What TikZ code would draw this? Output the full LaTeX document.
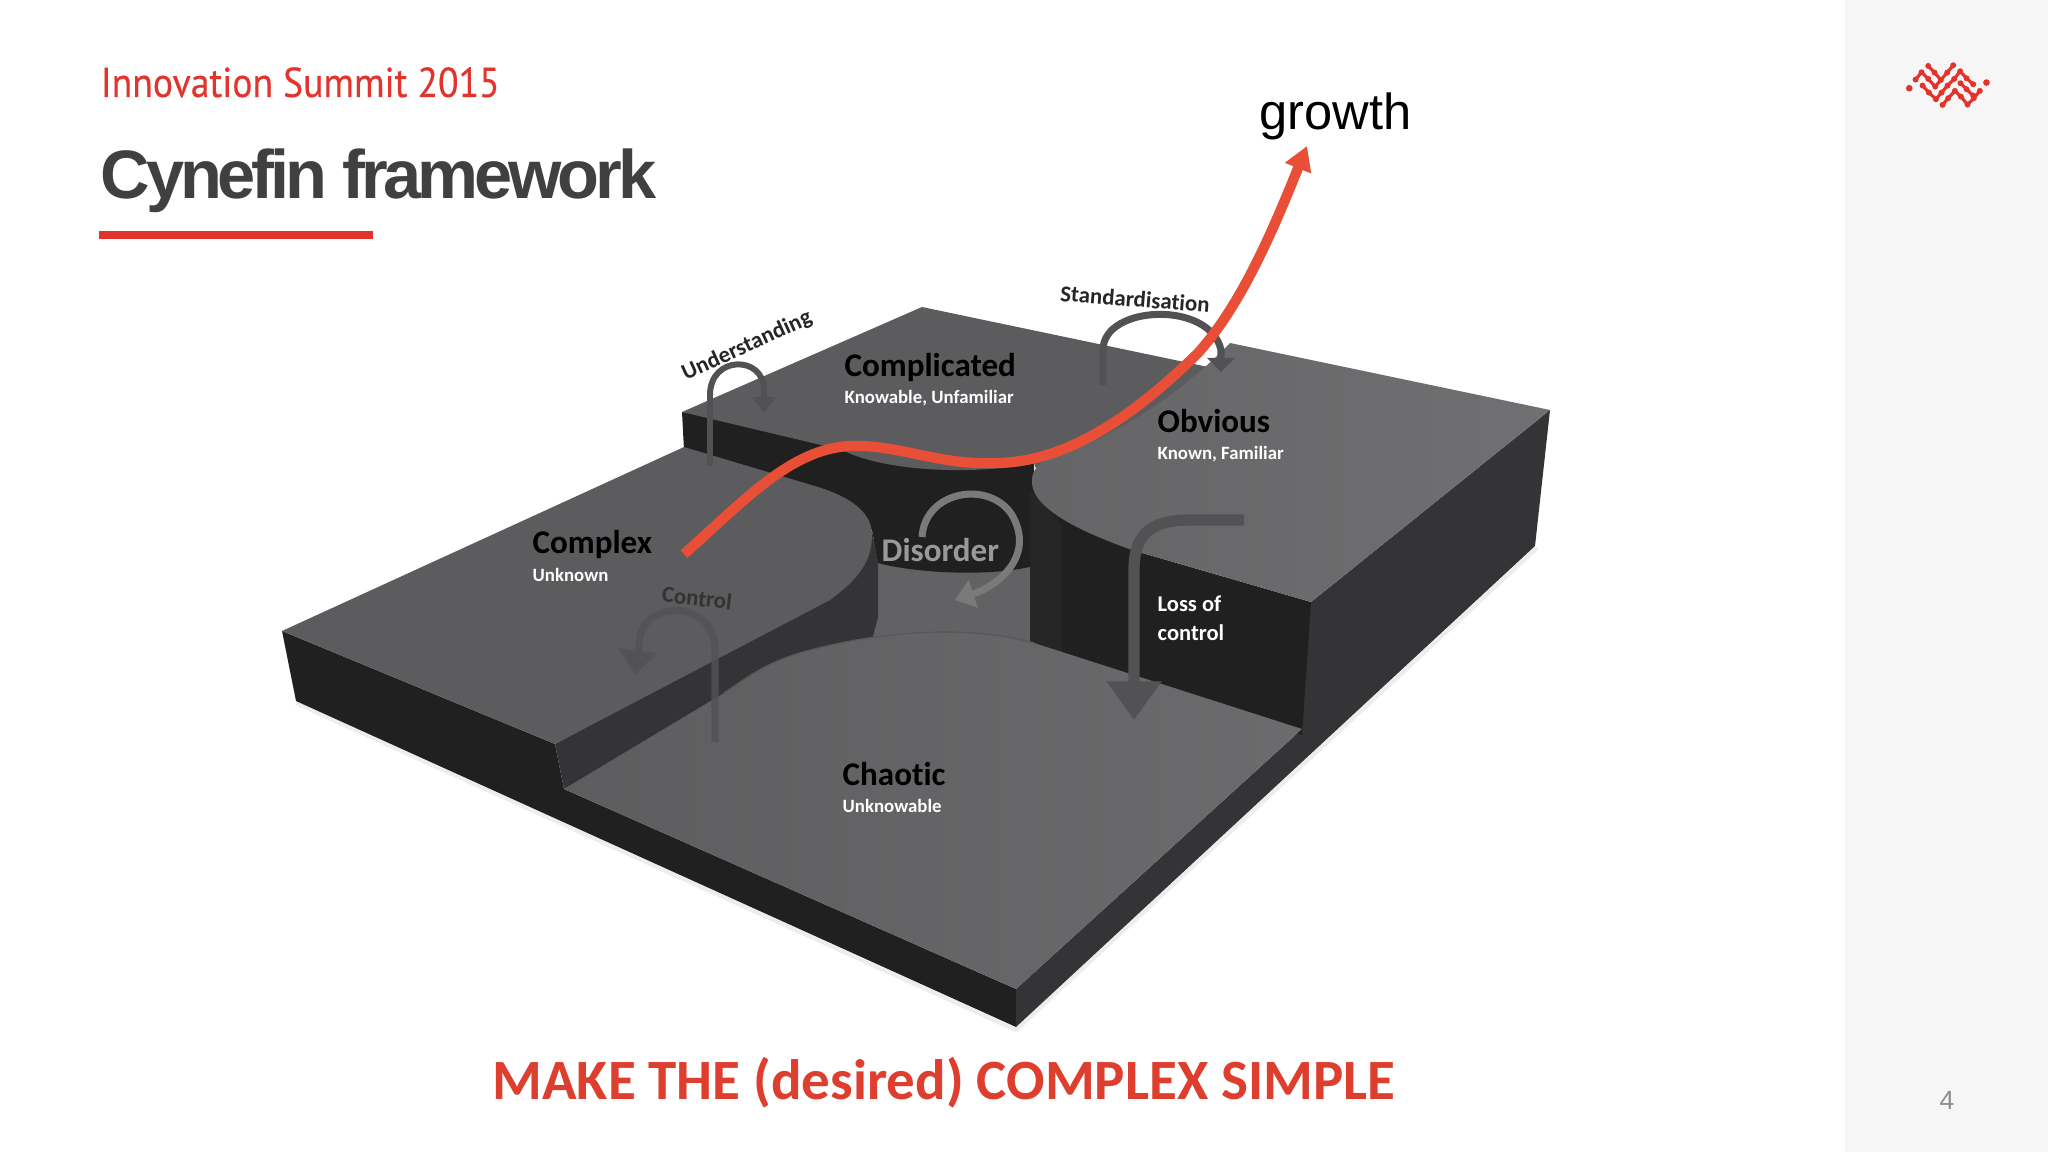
\documentclass[tikz,border=0pt]{standalone}
\usepackage{fontspec}
\setmainfont[Ligatures=NoCommon]{Carlito}
\newfontfamily\arialfont{Liberation Sans}
\newfontfamily\titlefont[LetterSpace=-6]{Liberation Sans}
\newfontfamily\headfont[FakeStretch=0.9,FakeBold=0.25]{PT Sans}
\usetikzlibrary{arrows.meta}
\definecolor{wallblack}{RGB}{33,32,33}
\definecolor{wallside}{RGB}{52,51,53}
\definecolor{topdark}{RGB}{92,91,93}
\definecolor{toplight}{RGB}{112,111,113}
\definecolor{floorgrey}{RGB}{98,97,99}
\definecolor{flowgrey}{RGB}{82,82,84}
\definecolor{logored}{RGB}{226,52,44}
\definecolor{growthred}{RGB}{233,79,55}
\definecolor{slogan}{RGB}{222,62,46}

\begin{document}
\begin{tikzpicture}[
  x=0.01cm,y=-0.01cm,
  wall/.style={fill=wallblack},
  sidewall/.style={fill=wallside},
  surface/.style={fill=#1},
  region/.style={anchor=base west,font=\fontsize{9.4}{11}\selectfont\bfseries,text=black,inner sep=0pt},
  note/.style={anchor=base west,font=\fontsize{5.35}{6}\selectfont\bfseries,text=white,inner sep=0pt},
  move/.style={font=\fontsize{6.5}{8}\selectfont\bfseries,text=#1,inner sep=0pt},
  flow/.style n args={3}{draw=flowgrey,line width=#1,-{Triangle[length=#2,width=#3]}}
  ]
  \useasboundingbox (0,0) rectangle (2048,1152);
  \fill[white] (0,0) rectangle (2048,1152);
  \fill[black!3.5] (1845,0) rectangle (2048,1152);

  \node[anchor=base west,inner sep=0pt,text=logored,font=\headfont\fontsize{11.9}{14}\selectfont] (NHead) at (100,97) {Innovation Summit 2015};
  \node[anchor=base west,inner sep=0pt,text=black!75,font=\titlefont\bfseries\fontsize{19.5}{22}\selectfont] (NTitle) at (100,199) {Cynefin framework};
  \fill[logored] (99,231) rectangle (373,239);

  % base slab
  \draw[black!7,line width=1.2pt] (296,703) -- (1016,1030) -- (1537,548);
  \path[wall] (282,631) -- (296,701) -- (1016,1027) -- (1016,989) -- (564,789) -- (555,744) -- cycle;
  \path[sidewall] (1016,989) -- (1016,1027) -- (1535,546) -- (1550,410) -- (1311,602) -- (1280,650) -- (1302,729) -- cycle;

  % floor in the middle
  \path[surface=floorgrey] (850,540) rectangle (1040,660);

  % complicated block
  \path[wall] (682,412) -- (684,450) -- (818,490) -- (872,530) -- (878,563)
    .. controls (910,572) and (985,578) .. (1034,566) -- (1034,460) -- (842,440) -- cycle;
  \path[surface=topdark] (922,307) -- (1232,372) -- (1100,480) -- (1040,480) -- (1034,463)
    .. controls (985,474) and (890,474) .. (842,450) -- (682,412) -- cycle;

  % obvious block
  \path[wall] (1032,470) -- (1030,650) -- (1302,735) -- (1311,602) -- (1132,550) -- cycle;
  \path[wall,fill=black!85] (1030,490) -- (1030,645) -- (1062,657) -- (1062,525) -- cycle;
  \path[left color=toplight!90!black,right color=toplight] (1230,343) -- (1550,410) -- (1311,602) -- (1132,550)
    .. controls (1070,528) and (1030,505) .. (1032,480)
    .. controls (1032,470) and (1040,462) .. (1050,458)
    .. controls (1110,440) and (1180,395) .. (1230,343) -- cycle;

  % complex block
  \path[sidewall] (555,744) -- (564,789) -- (724,700)
    .. controls (760,672) and (830,650) .. (870,648) -- (878,617) -- (878,563) -- (872,530) -- (840,590) -- cycle;
  \path[surface=topdark] (282,631) -- (684,447) -- (818,487)
    .. controls (850,497) and (872,512) .. (872,535)
    .. controls (872,560) and (860,578) .. (830,600) -- (555,744) -- cycle;

  % chaotic block
  \path[left color=floorgrey!95!black,right color=floorgrey!94!white] (564,789) -- (1016,989) -- (1302,729) -- (1034,643)
    .. controls (970,625) and (880,630) .. (800,653)
    .. controls (760,665) and (740,683) .. (724,693) -- cycle;
  \draw[black!65,line width=0.4pt] (724,693) .. controls (740,683) and (760,665) .. (800,653)
    .. controls (880,630) and (970,625) .. (1034,643);

  % moves between the domains
  \draw[flow={1.7pt}{4.5pt}{6.5pt}] (710,466) -- (710,395) .. controls (710,355) and (764,355) .. (764,390) -- (764,413);
  \draw[flow={2pt}{4pt}{7.7pt}] (1103,385) -- (1103,350) .. controls (1103,305) and (1210,300) .. (1221,350) -- (1221,372);
  \draw[flow={2pt}{7pt}{10.8pt},draw opacity=0.8,fill opacity=0.8] (715,742) -- (715,650) .. controls (715,598) and (639,598) .. (639,645) -- (635,675);
  \draw[flow={3.2pt}{11pt}{15pt}] (1244,520) -- (1190,520) .. controls (1150,520) and (1134,535) .. (1134,570) -- (1134,720);
  \draw[draw=black!52,line width=2pt,-{Triangle[length=5.5pt,width=8pt]}] (922,537)
    .. controls (925,490) and (990,480) .. (1012,515)
    .. controls (1035,555) and (1000,585) .. (955,600);

  \node[region] (NComplicated) at (844,377) {Complicated};
  \node[note] (NComplicatedSub) at (844,404) {Knowable, Unfamiliar};
  \node[region] (NObvious) at (1157,433) {Obvious};
  \node[note] (NObviousSub) at (1157,460) {Known, Familiar};
  \node[region] (NComplex) at (532,554) {Complex};
  \node[note] (NComplexSub) at (532,581) {Unknown};
  \node[region] (NChaotic) at (842,785) {Chaotic};
  \node[note] (NChaoticSub) at (842,812) {Unknowable};
  \node[region,text=black!40] (NDisorder) at (881,562) {Disorder};
  \node[note,font=\fontsize{6.4}{8}\selectfont\bfseries] (NLoss) at (1157,611) {Loss of};
  \node[note,font=\fontsize{6.4}{8}\selectfont\bfseries] (NLossB) at (1157,640) {control};

  \node[move=black!85,rotate=24.5] (NUnderstanding) at (747,346) {Understanding};
  \node[move=black!85,rotate=-4.5] (NStandard) at (1135,299) {Standardisation};
  \node[move=black!80,rotate=-6.5] (NControl) at (697,598) {Control};

  % growth curve
  \coordinate (GStart) at (684,554);
  \coordinate (GPeak) at (851,446);
  \coordinate (GDip) at (990,463);
  \coordinate (GEnd) at (1307,146);
  \draw[growthred,line width=2.9pt,-{Triangle[length=6.8pt,width=7.6pt]}] (GStart)
    .. controls (740,505) and (790,448) .. (GPeak)
    .. controls (895,444) and (940,465) .. (GDip)
    .. controls (1065,465) and (1135,415) .. (1198,353)
    .. controls (1243,303) and (1275,225) .. (GEnd);
  \node[anchor=base west,inner sep=0pt,font=\arialfont\fontsize{14.4}{16}\selectfont] (NGrowth) at (1259,130) {growth};

  \node[anchor=base,inner sep=0pt,text=slogan,font=\fontsize{16.2}{18}\selectfont\bfseries] (NSlogan) at (944,1099) {MAKE THE (desired) COMPLEX SIMPLE};
  \node[inner sep=0pt,text=black!45,font=\arialfont\fontsize{7.5}{9}\selectfont] (NPage) at (1947,1100) {4};

  % logo
  \begin{scope}[shift={(1860,30)},x=0.00333cm,y=-0.00333cm,draw=logored,fill=logored,line width=0.9pt,line join=round]
    \draw (167,149) -- (185,127) -- (205,147) -- (226,170);
    \draw (205,108) -- (224,128) -- (243,150) -- (262,128) -- (280,106);
    \draw (188,167) -- (207,188) -- (228,208) -- (245,188) -- (263,167) -- (283,147) -- (301,124) -- (320,145) -- (340,163);
    \draw (248,225) -- (265,205) -- (285,183) -- (303,200) -- (323,224) -- (342,205) -- (360,183);
    \draw (302,160) -- (320,178) -- (340,197);
    \draw (243,150) -- (226,170);
    \foreach \logodot in {(167,149),(185,127),(205,147),(226,170),(205,108),(224,128),(243,150),(262,128),(280,106),
      (188,167),(207,188),(228,208),(245,188),(263,167),(283,147),(301,124),(320,145),(340,163),
      (248,225),(265,205),(285,183),(303,200),(323,224),(342,205),(360,183),(302,160),(320,178),(340,197)} {
      \fill \logodot circle (9);
    }
    \fill (148,175) circle (10) (380,158) circle (10);
  \end{scope}
\end{tikzpicture}
\end{document}
